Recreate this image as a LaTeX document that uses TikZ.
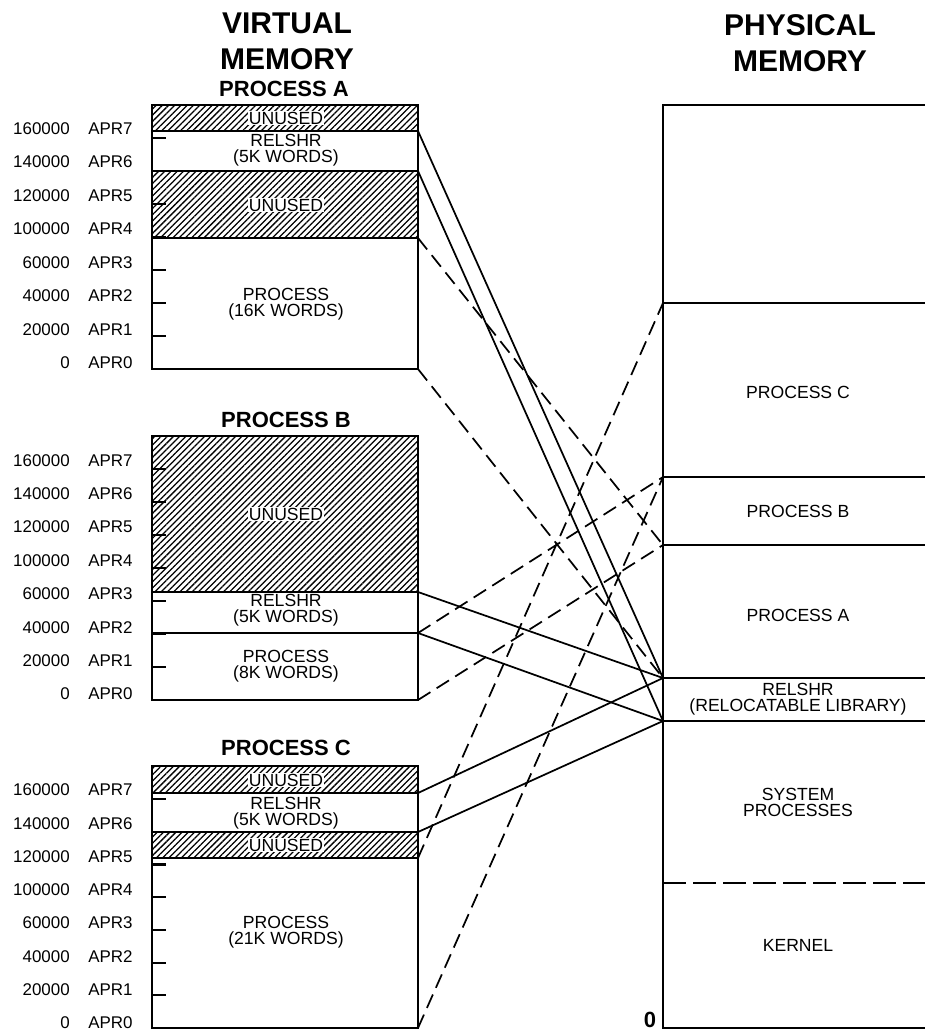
\documentclass[tikz,border=0pt]{standalone}
\usepackage{fontspec}
\setmainfont{Liberation Sans}
\usetikzlibrary{patterns.meta}
\begin{document}
\begin{tikzpicture}[x=0.75pt,y=-0.75pt,
  box/.style={line width=2pt},
  sep/.style={line width=1.8pt},
  tick/.style={line width=1.6pt},
  hatch/.style={pattern={Lines[angle=45,distance=3.3pt,line width=0.95pt]}},
  txt/.style={font=\fontsize{13.2}{12}\selectfont, align=center, inner sep=0pt},
  unused/.style={font=\fontsize{13.2}{12}\selectfont, fill=white, inner sep=0.8pt},
  title/.style={font=\fontsize{22.5}{27}\selectfont\bfseries, align=center, inner sep=0pt},
  ptitle/.style={font=\fontsize{16.5}{18}\selectfont\bfseries, inner sep=0pt},
  lbl/.style={font=\fontsize{12.7}{14}\selectfont, inner sep=0pt},
  link/.style={line width=1.3pt},
  dlink/.style={line width=1.3pt, dash pattern=on 11pt off 5.5pt},
]
\useasboundingbox (0,0) rectangle (925,1033);

% ---------- headings ----------
\node[title] (vtitle) at (287,41) {VIRTUAL\\MEMORY};
\node[title] (ptitle) at (800,43) {PHYSICAL\\MEMORY};
\node[ptitle] (ahead) at (284,89) {PROCESS A};
\node[ptitle] (bhead) at (286,420) {PROCESS B};
\node[ptitle] (chead) at (286,748) {PROCESS C};

% ---------- address / APR labels ----------
\foreach \k/\n in {0/0,1/20000,2/40000,3/60000,4/100000,5/120000,6/140000,7/160000}{
  \node[lbl,anchor=east] (an\k) at (70,{363-33.5*\k}) {\n};
  \node[lbl,anchor=west] (aa\k) at (88,{363-33.5*\k}) {APR\k};
  \node[lbl,anchor=east] (bn\k) at (70,{694-33.4*\k}) {\n};
  \node[lbl,anchor=west] (ba\k) at (88,{694-33.4*\k}) {APR\k};
  \node[lbl,anchor=east] (cn\k) at (70,{1023-33.3*\k}) {\n};
  \node[lbl,anchor=west] (ca\k) at (88,{1023-33.3*\k}) {APR\k};
}

% ---------- process A ----------
\fill[hatch] (152,105) rectangle (418,131);
\fill[hatch] (152,171) rectangle (418,238);
\foreach \k in {1,...,7} \draw[tick] (152,{369-33*\k}) -- ++(14,0);
\draw[box] (152,105) rectangle (418,369);
\draw[box] (152,131) -- (418,131) (152,171) -- (418,171) (152,238) -- (418,238);
\node[unused] (aun1) at (286,118) {UNUSED};
\node[txt] (arel) at (286,150) {RELSHR\\(5K WORDS)};
\node[unused] (aun2) at (286,205) {UNUSED};
\node[txt] (apro) at (286,304) {PROCESS\\(16K WORDS)};

% ---------- process B ----------
\fill[hatch] (152,436) rectangle (418,592);
\foreach \k in {1,...,7} \draw[tick] (152,{700-33*\k}) -- ++(14,0);
\draw[box] (152,436) rectangle (418,700);
\draw[box] (152,592) -- (418,592) (152,633) -- (418,633);
\node[unused] (bun1) at (286,514) {UNUSED};
\node[txt] (brel) at (286,610) {RELSHR\\(5K WORDS)};
\node[txt] (bpro) at (286,666) {PROCESS\\(8K WORDS)};

% ---------- process C ----------
\fill[hatch] (152,766) rectangle (418,793);
\fill[hatch] (152,832) rectangle (418,858);
\foreach \k in {1,...,7} \draw[tick] (152,{1028-32.7*\k}) -- ++(14,0);
\draw[box] (152,766) rectangle (418,1028);
\draw[box] (152,793) -- (418,793) (152,832) -- (418,832) (152,858) -- (418,858);
\node[unused] (cun1) at (286,780) {UNUSED};
\node[txt] (crel) at (286,813) {RELSHR\\(5K WORDS)};
\node[unused] (cun2) at (286,845) {UNUSED};
\node[txt] (cpro) at (286,932) {PROCESS\\(21K WORDS)};

% ---------- physical memory ----------
\draw[sep] (926,105) -- (663,105) -- (663,1028) -- (926,1028);
\draw[sep] (663,303) -- (926,303) (663,477) -- (926,477) (663,545) -- (926,545)
           (663,678) -- (926,678) (663,721) -- (926,721);
\draw[sep, dash pattern=on 17pt off 5.5pt] (663,883) -- (926,883);
\node[txt] (ppc) at (798,392) {PROCESS C};
\node[txt] (ppb) at (798,511) {PROCESS B};
\node[txt] (ppa) at (798,615) {PROCESS A};
\node[txt] (prel) at (798,699) {RELSHR\\(RELOCATABLE LIBRARY)};
\node[txt] (psys) at (798,802) {SYSTEM\\PROCESSES};
\node[txt] (pker) at (798,945) {KERNEL};
\node[ptitle] (zero) at (650,1020) {0};

% ---------- connection points ----------
\coordinate (aRelT) at (418,131);
\coordinate (aRelB) at (418,171);
\coordinate (aProT) at (418,238);
\coordinate (aBot)  at (418,369);
\coordinate (bRelT) at (418,592);
\coordinate (bRelB) at (418,633);
\coordinate (bBot)  at (418,700);
\coordinate (cRelT) at (418,793);
\coordinate (cRelB) at (418,832);
\coordinate (cProT) at (418,858);
\coordinate (cBot)  at (418,1028);
\coordinate (pCtop) at (663,303);
\coordinate (pBtop) at (663,477);
\coordinate (pAtop) at (663,545);
\coordinate (pRtop) at (663,678);
\coordinate (pRbot) at (663,721);

% shared library: every process maps onto the same physical RELSHR
\draw[link] (aRelT) -- (pRtop);
\draw[link] (aRelB) -- (pRbot);
\draw[link] (bRelT) -- (pRtop);
\draw[link] (bRelB) -- (pRbot);
\draw[link] (cRelT) -- (pRtop);
\draw[link] (cRelB) -- (pRbot);

% private process images
\draw[dlink] (aProT) -- (pAtop);
\draw[dlink] (aBot)  -- (pRtop);
\draw[dlink] (bRelB) -- (pBtop);
\draw[dlink] (bBot)  -- (pAtop);
\draw[dlink] (cProT) -- (pCtop);
\draw[dlink] (cBot)  -- (pBtop);
\end{tikzpicture}
\end{document}
